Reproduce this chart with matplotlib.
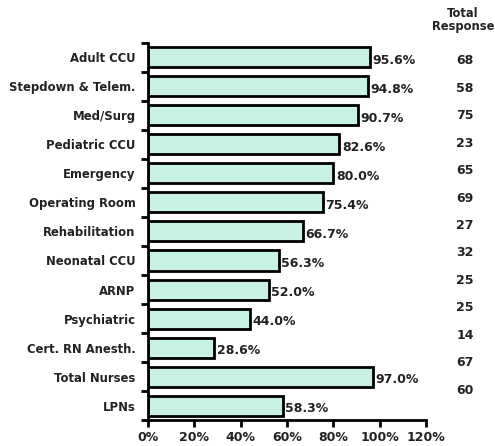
import numpy as np
import matplotlib.pyplot as plt

categories = ['Adult CCU', 'Stepdown & Telem.', 'Med/Surg', 'Pediatric CCU',
              'Emergency', 'Operating Room', 'Rehabilitation', 'Neonatal CCU',
              'ARNP', 'Psychiatric', 'Cert. RN Anesth.', 'Total Nurses', 'LPNs']
percent = [95.6, 94.8, 90.7, 82.6, 80.0, 75.4, 66.7, 56.3, 52.0, 44.0, 28.6, 97.0, 58.3]
responses = [68, 58, 75, 23, 65, 69, 27, 32, 25, 25, 14, 67, 60]
x_ticks = [0, 20, 40, 60, 80, 100, 120]

plt.rcParams['font.family'] = ['DejaVu Sans']

fig = plt.figure(figsize=(4.95, 4.46), dpi=100)
ax = fig.add_axes([0.299, 0.058, 0.562, 0.846])

y = np.arange(len(categories))
ax.barh(y, percent, height=0.69, color='#c8f1e5', edgecolor='black', linewidth=2)

for yi, p in zip(y, percent):
    ax.text(p + 1, yi + 0.1, f'{p:.1f}%', va='center', ha='left',
            fontsize=9, fontweight='bold', color='#222222')

ax.set_ylim(len(categories) - 0.5, -0.5)
ax.set_xlim(0, 120)
ax.set_yticks(y)
ax.set_yticklabels(categories, fontsize=8.4, fontweight='bold', color='#222222')
ax.set_yticks(np.arange(-0.5, len(categories), 1), minor=True)
ax.tick_params(axis='y', which='major', length=0, pad=9)
ax.tick_params(axis='y', which='minor', length=5, width=2, direction='out')

ax.set_xticks(x_ticks)
ax.set_xticklabels([f'{t}%' for t in x_ticks], fontsize=9, fontweight='bold', color='#222222')
ax.tick_params(axis='x', length=5, width=2, direction='out', pad=3)

for s in ['top', 'right']:
    ax.spines[s].set_visible(False)
for s in ['left', 'bottom']:
    ax.spines[s].set_linewidth(2)

# separate "Total Response" column
fig.text(463 / 495, 1 - 20 / 446, 'Total\nResponse', ha='center', va='center',
         fontsize=8.3, fontweight='bold', color='#222222', linespacing=1.0)
ys = np.linspace(61, 390, len(responses))
for yy, r in zip(ys, responses):
    fig.text(465 / 495, 1 - yy / 446, str(r), ha='center', va='center',
             fontsize=9, fontweight='bold', color='#222222')

fig.savefig('out.png', dpi=100)
